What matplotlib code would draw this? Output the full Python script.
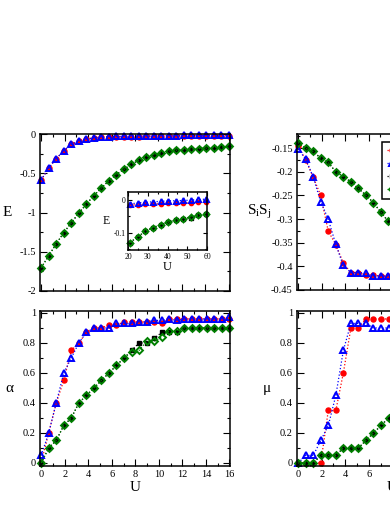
import numpy as np
import matplotlib
matplotlib.use("Agg")
import matplotlib.pyplot as plt
from matplotlib.ticker import MultipleLocator

plt.rcParams['font.family'] = ['Liberation Serif', 'DejaVu Serif']
plt.rcParams['mathtext.fontset'] = 'custom'
plt.rcParams['mathtext.rm'] = 'Liberation Serif'
plt.rcParams['mathtext.it'] = 'Liberation Serif:italic'

# U grid: 26 points, step 0.64
U = 0.64 * np.arange(26)
U_inset = 0.64 * np.arange(33, 94, 6)

names = ['A', 'B', 'C', 'D']

# --- energy E ---
E_red = [-0.585, -0.434, -0.314, -0.215, -0.133, -0.092, -0.067, -0.050, -0.042, -0.038,
         -0.036, -0.034, -0.033, -0.032, -0.031, -0.030, -0.029, -0.028, -0.027, -0.026,
         -0.025, -0.024, -0.023, -0.022, -0.021, -0.020]
E_blue = [-0.585, -0.434, -0.314, -0.215, -0.133, -0.090, -0.065, -0.047, -0.039, -0.034,
          -0.031, -0.029, -0.027, -0.025, -0.024, -0.023, -0.022, -0.021, -0.020, -0.019,
          -0.018, -0.017, -0.016, -0.015, -0.014, -0.013]
E_green = [-1.703, -1.553, -1.398, -1.260, -1.131, -1.011, -0.895, -0.787, -0.688, -0.598,
           -0.516, -0.452, -0.387, -0.335, -0.292, -0.262, -0.237, -0.219, -0.206, -0.198,
           -0.194, -0.185, -0.181, -0.172, -0.168, -0.159]
E_black = E_green

Ei_red = [-0.015, -0.014, -0.013, -0.012, -0.011, -0.010, -0.010, -0.009, -0.008, -0.007, -0.005]
Ei_blue = [-0.012, -0.008, -0.007, -0.005, -0.004, -0.002, -0.002, -0.001, 0.000, 0.002, 0.003]
Ei_green = [-0.130, -0.112, -0.096, -0.084, -0.076, -0.068, -0.062, -0.057, -0.051, -0.047, -0.044]
Ei_black = [-0.130, -0.112, -0.096, -0.084, -0.076, -0.068, -0.062, -0.057, -0.054, -0.047, -0.044]

# --- alpha ---
a_red = [0.0, 0.20, 0.40, 0.55, 0.75, 0.80, 0.87, 0.90, 0.90, 0.92, 0.92, 0.94, 0.94,
         0.94, 0.94, 0.94, 0.93, 0.96, 0.96, 0.96, 0.96, 0.96, 0.96, 0.96, 0.96, 0.96]
a_blue = [0.05, 0.20, 0.40, 0.60, 0.70, 0.80, 0.87, 0.90, 0.90, 0.90, 0.93, 0.93, 0.93,
          0.94, 0.94, 0.95, 0.95, 0.96, 0.95, 0.96, 0.96, 0.96, 0.96, 0.96, 0.96, 0.97]
a_black = [0.0, 0.10, 0.15, 0.25, 0.30, 0.40, 0.45, 0.50, 0.55, 0.60, 0.65, 0.70, 0.75,
           0.80, 0.80, 0.83, 0.87, 0.87, 0.87, 0.90, 0.90, 0.90, 0.90, 0.90, 0.90, 0.90]
a_green = [0.0, 0.10, 0.15, 0.25, 0.30, 0.40, 0.45, 0.50, 0.55, 0.60, 0.65, 0.70, 0.74,
           0.75, 0.81, 0.81, 0.84, 0.88, 0.88, 0.90, 0.90, 0.90, 0.90, 0.90, 0.90, 0.90]

# --- spin correlation SiSj (visible part) ---
S_red = [-0.145, -0.175, -0.211, -0.250, -0.325, -0.354, -0.392, -0.413, -0.413, -0.418,
         -0.418, -0.421, -0.421]
S_blue = [-0.152, -0.173, -0.211, -0.263, -0.300, -0.353, -0.398, -0.413, -0.413, -0.414,
          -0.420, -0.420, -0.420]
S_green = [-0.138, -0.150, -0.157, -0.171, -0.180, -0.200, -0.210, -0.221, -0.235, -0.249,
           -0.265, -0.285, -0.305]
S_black = S_green

# --- mu (visible part) ---
m_red = [0.0, 0.0, 0.0, 0.0, 0.35, 0.35, 0.60, 0.90, 0.90, 0.96, 0.96, 0.96, 0.96]
m_blue = [0.0, 0.05, 0.05, 0.15, 0.25, 0.45, 0.75, 0.93, 0.93, 0.93, 0.90, 0.90, 0.90]
m_green = [0.0, 0.0, 0.0, 0.05, 0.05, 0.05, 0.10, 0.10, 0.10, 0.15, 0.20, 0.25, 0.30]
m_black = m_green

W, H = 390, 505
fig = plt.figure(figsize=(W / 100, H / 100), dpi=100)


def px_axes(x0, y0, x1, y1):
    return fig.add_axes([x0 / W, 1 - y1 / H, (x1 - x0) / W, (y1 - y0) / H])


styles = [
    dict(color='red', marker='o', ms=3.6, mfc='red', mec='red'),
    dict(color='blue', marker='^', ms=4.2, mfc='none', mec='blue', mew=1.4),
    dict(color='black', marker='s', ms=2.8, mfc='black', mec='black'),
    dict(color='green', marker='D', ms=3.5, mfc='none', mec='green', mew=1.4),
]


def draw(ax, x, series, ms_scale=1.0):
    for ys, st, nm in zip(series, styles, names):
        st = dict(st)
        st['ms'] = st['ms'] * ms_scale
        ax.plot(x[:len(ys)], ys, ls=':', lw=0.9, clip_on=False, label=nm, **st)


def style(ax, fs=7.5, maj=5, mnr=2.4):
    for s in ax.spines.values():
        s.set_linewidth(1.1)
    ax.tick_params(which='both', direction='in', top=True, right=True,
                   width=0.8, labelsize=fs, pad=3)
    ax.tick_params(which='major', length=maj)
    ax.tick_params(which='minor', length=mnr)


# top left: E
ax1 = px_axes(40, 134, 230, 291)
draw(ax1, U, [E_red, E_blue, E_black, E_green])
ax1.set_xlim(-0.1, 16.1)
ax1.set_ylim(-2, 0)
ax1.xaxis.set_major_locator(MultipleLocator(2))
ax1.xaxis.set_minor_locator(MultipleLocator(1))
ax1.set_yticks([0, -0.5, -1, -1.5, -2], ['0', '-0.5', '-1', '-1.5', '-2'])
ax1.yaxis.set_minor_locator(MultipleLocator(0.25))
ax1.set_xticklabels([])
style(ax1)
ax1.set_ylabel('E', rotation=0, fontsize=11, va='center')
ax1.yaxis.set_label_coords(-0.17, 0.5)

# inset
axi = px_axes(128, 192, 207, 250)
draw(axi, U_inset, [Ei_red, Ei_blue, Ei_black, Ei_green], ms_scale=0.85)
axi.set_xlim(20, 60)
axi.set_ylim(-0.153, 0.025)
axi.xaxis.set_major_locator(MultipleLocator(10))
axi.xaxis.set_minor_locator(MultipleLocator(5))
axi.set_yticks([0, -0.1], ['0', '-0.1'])
axi.yaxis.set_minor_locator(MultipleLocator(0.05))
style(axi, fs=5.5, maj=3, mnr=1.6)
axi.tick_params(pad=2)
axi.set_ylabel('E', rotation=0, fontsize=8.5, va='center')
axi.yaxis.set_label_coords(-0.27, 0.5)
axi.set_xlabel('U', fontsize=9, labelpad=0)

# bottom left: alpha
ax2 = px_axes(40, 311, 230, 466)
draw(ax2, U, [a_red, a_blue, a_black, a_green])
ax2.set_xlim(-0.1, 16.05)
ax2.set_ylim(-0.02, 1.013)
ax2.xaxis.set_major_locator(MultipleLocator(2))
ax2.xaxis.set_minor_locator(MultipleLocator(1))
ax2.set_yticks([0, 0.2, 0.4, 0.6, 0.8, 1], ['0', '0.2', '0.4', '0.6', '0.8', '1'])
ax2.yaxis.set_minor_locator(MultipleLocator(0.1))
style(ax2)
ax2.set_ylabel('α', rotation=0, fontsize=11, va='center')
ax2.yaxis.set_label_coords(-0.16, 0.5)
ax2.set_xlabel('U', fontsize=11, labelpad=1)

# top right: SiSj
ax3 = px_axes(297, 134, 487, 290)
draw(ax3, U, [S_red, S_blue, S_black, S_green])
ax3.set_xlim(-0.1, 16.1)
ax3.set_ylim(-0.45, -0.12)
ax3.xaxis.set_major_locator(MultipleLocator(2))
ax3.xaxis.set_minor_locator(MultipleLocator(1))
ax3.set_yticks([-0.15, -0.2, -0.25, -0.3, -0.35, -0.4, -0.45],
               ['-0.15', '-0.2', '-0.25', '-0.3', '-0.35', '-0.4', '-0.45'])
ax3.yaxis.set_minor_locator(MultipleLocator(0.025))
ax3.set_xticklabels([])
style(ax3)
ax3.set_ylabel(r'S$_\mathrm{i}$S$_\mathrm{j}$', rotation=0, fontsize=11, va='center')
ax3.yaxis.set_label_coords(-0.2, 0.5)
leg = ax3.legend(loc='upper left', bbox_to_anchor=(0.447, 0.949), borderaxespad=0,
                 fontsize=7.5, handlelength=1.0, handletextpad=0.5, borderpad=0.45,
                 labelspacing=0.35, fancybox=False, framealpha=1, edgecolor='black')
leg.get_frame().set_linewidth(1.1)

# bottom right: mu
ax4 = px_axes(297, 311, 487, 466)
draw(ax4, U, [m_red, m_blue, m_black, m_green])
ax4.set_xlim(-0.1, 16.05)
ax4.set_ylim(-0.02, 1.013)
ax4.xaxis.set_major_locator(MultipleLocator(2))
ax4.xaxis.set_minor_locator(MultipleLocator(1))
ax4.set_yticks([0, 0.2, 0.4, 0.6, 0.8, 1], ['0', '0.2', '0.4', '0.6', '0.8', '1'])
ax4.yaxis.set_minor_locator(MultipleLocator(0.1))
style(ax4)
ax4.set_ylabel('μ', rotation=0, fontsize=11, va='center')
ax4.yaxis.set_label_coords(-0.16, 0.5)
ax4.set_xlabel('U', fontsize=11, labelpad=1)

fig.savefig('out.png', dpi=100)
